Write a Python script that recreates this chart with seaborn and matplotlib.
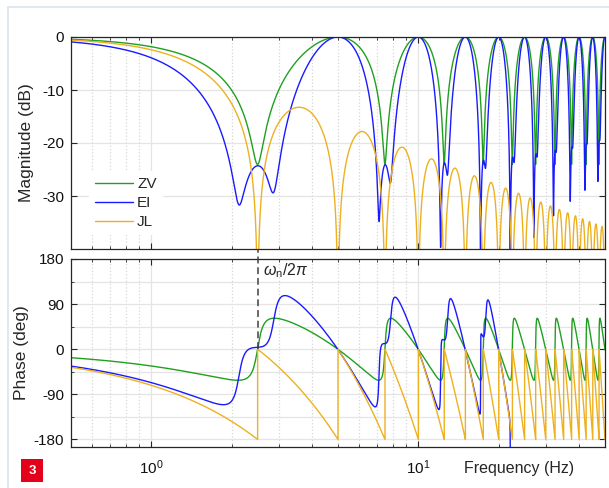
import numpy as np
import pandas as pd
import matplotlib
matplotlib.use("Agg")
import matplotlib.pyplot as plt
from matplotlib.lines import Line2D
from matplotlib.patches import Rectangle
from matplotlib.ticker import FixedLocator, NullFormatter, LogLocator, NullLocator
import seaborn as sns

# ---- Shaper definitions (mode at 2.5 Hz, damping ratio 0.04) ----
shaper_names = ["ZV", "EI", "JL"]
shaper_colors = ["#1fa01f", "#1a1aff", "#edb120"]

# impulse amplitudes and times (s)
zv_amplitudes = [0.531399, 0.468601]
zv_times = [0.0, 0.200160]

ei_amplitudes = [0.297677, 0.469595, 0.232728]
ei_times = [0.0, 0.200710, 0.400320]

# uniform (moving-average) filter length, s
jl_window = 0.4

natural_freq = 2.5  # Hz

# ---- Axis settings ----
freq_limits = (0.5, 50)
mag_limits = (-40, 0)
phase_limits = (-195, 180)
mag_ticks = [-30, -20, -10, 0]
phase_ticks = [-180, -90, 0, 90, 180]
phase_minor_ticks = [-135, -45, 45, 135]

# ---- Frequency responses ----
freq = np.logspace(np.log10(freq_limits[0]), np.log10(freq_limits[1]), 60000)
omega = 2 * np.pi * freq


def impulse_response(amps, times):
    return sum(a * np.exp(-1j * omega * t) for a, t in zip(amps, times))


h_zv = impulse_response(zv_amplitudes, zv_times)
h_ei = impulse_response(ei_amplitudes, ei_times)
h_jl = np.sinc(freq * jl_window) * np.exp(-1j * np.pi * freq * jl_window)


def to_db(h):
    return 20 * np.log10(np.maximum(np.abs(h), 1e-12))


responses = {
    "ZV": (to_db(h_zv), np.degrees(np.angle(h_zv))),
    "EI": (to_db(h_ei), np.degrees(np.unwrap(np.angle(h_ei)))),
    "JL": (to_db(h_jl), np.degrees(np.angle(h_jl))),
}

df = pd.concat(
    [pd.DataFrame({"Frequency": freq, "Magnitude": m, "Phase": p, "Shaper": name})
     for name, (m, p) in responses.items()],
    ignore_index=True,
)

# ---- Style ----
sns.set_style("ticks")
plt.rcParams["font.family"] = ["Liberation Sans", "DejaVu Sans"]
plt.rcParams["axes.unicode_minus"] = False
plt.rcParams["mathtext.fontset"] = "custom"
plt.rcParams["mathtext.rm"] = "Liberation Sans"
plt.rcParams["mathtext.it"] = "Liberation Sans:italic"
plt.rcParams["mathtext.bf"] = "Liberation Sans:bold"

W, H = 609, 488
fig = plt.figure(figsize=(W / 100, H / 100), dpi=100)
fig.patch.set_facecolor("white")

left, right = 71, 605
ax1 = fig.add_axes([left / W, 1 - 249 / H, (right - left) / W, (249 - 37) / H])
ax2 = fig.add_axes([left / W, 1 - 447 / H, (right - left) / W, (447 - 259) / H])

palette = dict(zip(shaper_names, shaper_colors))
line_kw = dict(hue="Shaper", hue_order=shaper_names, palette=palette,
               estimator=None, sort=False, linewidth=1.0)

sns.lineplot(data=df, x="Frequency", y="Magnitude", ax=ax1, **line_kw)
sns.lineplot(data=df, x="Frequency", y="Phase", ax=ax2, legend=False, **line_kw)

axis_color = "#262626"
for ax in (ax1, ax2):
    ax.set_xscale("log")
    ax.set_xlim(*freq_limits)
    ax.xaxis.set_major_locator(LogLocator(base=10, numticks=10))
    ax.xaxis.set_minor_locator(LogLocator(base=10, subs=np.arange(2, 10), numticks=10))
    ax.xaxis.set_minor_formatter(NullFormatter())
    ax.grid(True, which="major", color="#e4e4e4", linewidth=0.9, linestyle="-")
    ax.grid(True, which="minor", axis="x", color="#d6d6d6", linewidth=0.9, linestyle=":")
    ax.set_axisbelow(True)
    for s in ax.spines.values():
        s.set_color(axis_color)
        s.set_linewidth(0.9)
    ax.tick_params(which="both", direction="in", top=True, right=True,
                   color=axis_color, labelcolor="#111111", labelsize=11)
    ax.tick_params(which="major", length=4.5, width=0.8, pad=5)
    ax.tick_params(which="minor", length=2.5, width=0.6)

# Magnitude axes
ax1.set_ylim(*mag_limits)
ax1.yaxis.set_major_locator(FixedLocator(mag_ticks))
ax1.yaxis.set_minor_locator(NullLocator())
ax1.set_yticklabels([str(t) for t in mag_ticks])
ax1.tick_params(axis="x", labelbottom=False)
ax1.set_xlabel("")
ax1.set_ylabel("Magnitude (dB)", fontsize=12.5)
ax1.yaxis.label.set_va("center")
ax1.yaxis.set_label_coords((27 - left) / (right - left), 0.5)

handles, labels = ax1.get_legend_handles_labels()
leg = ax1.legend(handles, labels, loc="upper left",
                 bbox_to_anchor=((89 - left) / (right - left), 1 - (171 - 37) / 212),
                 borderaxespad=0, frameon=True, facecolor="white", edgecolor="none",
                 framealpha=1, fancybox=False, fontsize=11, handlelength=2.5,
                 handletextpad=0.25, labelspacing=0.33, borderpad=0.4)

# Phase axes
ax2.set_ylim(*phase_limits)
ax2.yaxis.set_major_locator(FixedLocator(phase_ticks))
ax2.yaxis.set_minor_locator(FixedLocator(phase_minor_ticks))
ax2.set_yticklabels([str(t) for t in phase_ticks])
ax2.grid(True, which="minor", axis="y", color="#e4e4e4", linewidth=0.9, linestyle="-")
ax2.tick_params(axis="x", which="major", pad=8)
ax2.set_ylabel("Phase (deg)", fontsize=12.5)
ax2.yaxis.label.set_va("center")
ax2.yaxis.set_label_coords((22 - left) / (right - left), 0.5)
ax2.set_xlabel("Frequency (Hz)", fontsize=11.5)
ax2.xaxis.label.set_va("center")
ax2.xaxis.set_label_coords((519 - left) / (right - left), -(468 - 447) / (447 - 259))

# Natural frequency marker
ax2.plot([natural_freq, natural_freq], [0, 200], color="#404040", linewidth=1.1,
         dashes=(4.5, 2.5), clip_on=False, zorder=5)
ax2.annotate(r"$\omega_\mathrm{n}/2\pi$", xy=(natural_freq, 180), xycoords="data",
             xytext=(4, -2), textcoords="offset points", ha="left", va="top",
             fontsize=11.5, color="#262626")

# Page frame and figure number badge
fig.add_artist(Line2D([7.5 / W, 7.5 / W], [0, 1 - 7 / H], transform=fig.transFigure,
                      color="#dbe4f0", linewidth=1.2))
fig.add_artist(Line2D([7.5 / W, 1], [1 - 7 / H, 1 - 7 / H], transform=fig.transFigure,
                      color="#dbe4f0", linewidth=1.2))
fig.add_artist(Rectangle((21 / W, 1 - 482 / H), 22 / W, 23 / H, transform=fig.transFigure,
                         facecolor="#e2001a", edgecolor="none"))
fig.text(32 / W, 1 - 470.5 / H, "3", color="white", fontsize=9.5, fontweight="bold",
         ha="center", va="center")

fig.savefig("out.png", dpi=100, facecolor="white")
